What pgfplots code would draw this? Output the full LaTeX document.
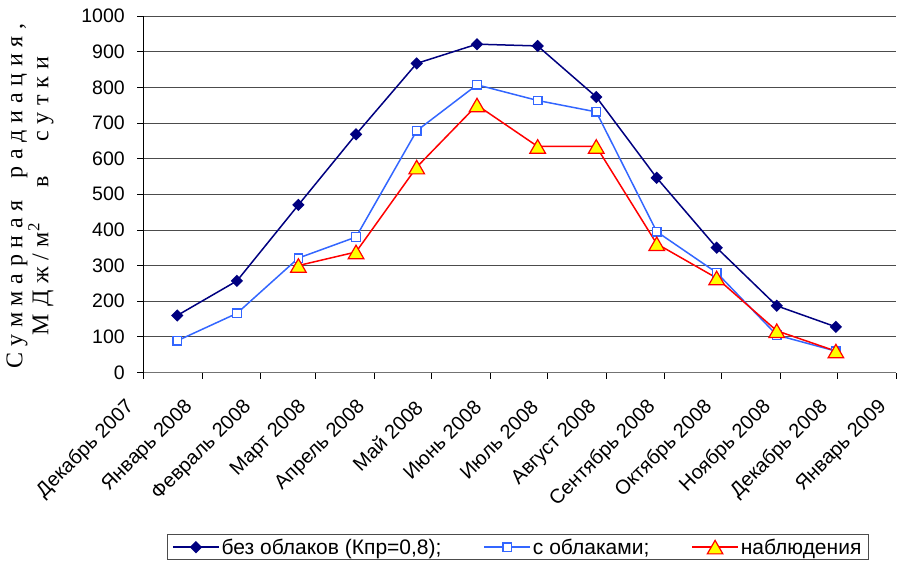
\documentclass[border=0pt]{standalone}
\usepackage{fontspec}
\setmainfont{Liberation Sans}
\newfontfamily\labelfont{Liberation Serif}[LetterSpace=28]
\usepackage{pgfplots}
\usepackage{pgfplotstable}
\pgfplotsset{compat=1.18}

\definecolor{clearsky}{RGB}{0,0,128}
\definecolor{cloudy}{RGB}{51,102,255}
\definecolor{obsred}{RGB}{255,0,0}
\definecolor{obsyellow}{RGB}{255,255,0}

% x = days since 1 December 2007
\pgfplotstableread{
day   val
17.9  160
49.4  257
81.8  470
112.2 668
144.2 867
176.0 921
208.0 916
238.9 773
270.8 546
302.4 350
334.1 187
365.3 128
}\noclouds

\pgfplotstableread{
day   val
17.9  89
49.4  166
81.8  321
112.2 380
144.2 678
176.0 807
208.0 763
238.9 731
270.8 395
302.4 280
334.1 105
365.3 60
}\withclouds

\pgfplotstableread{
day   val
81.8  300
112.2 338
144.2 576
176.0 750
208.0 634
238.9 634
270.8 361
302.4 265
334.1 117
365.3 60
}\observed

\begin{document}
\begin{tikzpicture}
\useasboundingbox (0,0) rectangle (901pt,563pt);
\begin{axis}[
  at={(143.3pt,190.5pt)}, anchor=south west,
  scale only axis, width=752.7pt, height=356.5pt,
  xmin=0, xmax=397, ymin=0, ymax=1000,
  axis x line*=bottom, axis y line*=left,
  x axis line style={black!55, line width=0.8pt},
  y axis line style={black, line width=0.8pt},
  tick align=outside, major tick length=6pt,
  tick style={black, line width=0.8pt},
  xtick={0,31,62,91,122,152,183,213,244,275,305,336,366,397},
  xticklabels={Декабрь 2007,Январь 2008,Февраль 2008,Март 2008,Апрель 2008,Май 2008,Июнь 2008,Июль 2008,Август 2008,Сентябрь 2008,Октябрь 2008,Ноябрь 2008,Декабрь 2008,Январь 2009},
  ytick={0,100,...,1000},
  /pgf/number format/assume math mode=true,
  /pgf/number format/1000 sep={},
  yticklabel style={font=\fontsize{19.5}{22}\selectfont, xshift=-9pt},
  xticklabel style={font=\fontsize{20}{23}\selectfont,
    xshift=-10pt, yshift=-23pt, rotate=45, anchor=east},
  ymajorgrids, grid style={black!70, line width=0.8pt},
  legend columns=3,
  legend cell align=left,
  legend style={at={(axis description cs:0.4975,-0.49)}, anchor=center,
    font=\fontsize{21}{24}\selectfont, draw=black!70, line width=0.8pt,
    inner xsep=5pt, inner ysep=2pt,
    /tikz/every even column/.append style={column sep=40pt}},
  legend image code/.code={%
    \draw[mark repeat=2,mark phase=2,#1] plot coordinates {(0pt,0pt) (23pt,0pt) (46pt,0pt)};},
]
\addplot[clearsky, line width=1.5pt, mark=square*, mark size=3.6pt,
  mark options={rotate=45, solid, fill=clearsky}] table[x=day,y=val] {\noclouds};
\addlegendentry{без облаков (Кпр=0,8);}
\addplot[cloudy, line width=1.5pt, mark=square*, mark size=4.2pt,
  mark options={solid, fill=white, draw=cloudy, line width=1.3pt}] table[x=day,y=val] {\withclouds};
\addlegendentry{с облаками;}
\addplot[obsred, line width=1.5pt, mark=triangle*, mark size=9pt,
  mark options={solid, fill=obsyellow, draw=obsred, line width=1.2pt, yshift=-2.2pt}] table[x=day,y=val] {\observed};
\addlegendentry{наблюдения}
\end{axis}
\node[rotate=90, align=center, font=\labelfont\fontsize{24}{26}\selectfont]
  at (30pt,367pt)
  {\makebox[345pt]{Суммарная\hfill радиация,}\\
   \makebox[278pt]{МДж/м\textsuperscript{2}\hfill в\hfill сутки}};
\end{tikzpicture}
\end{document}
